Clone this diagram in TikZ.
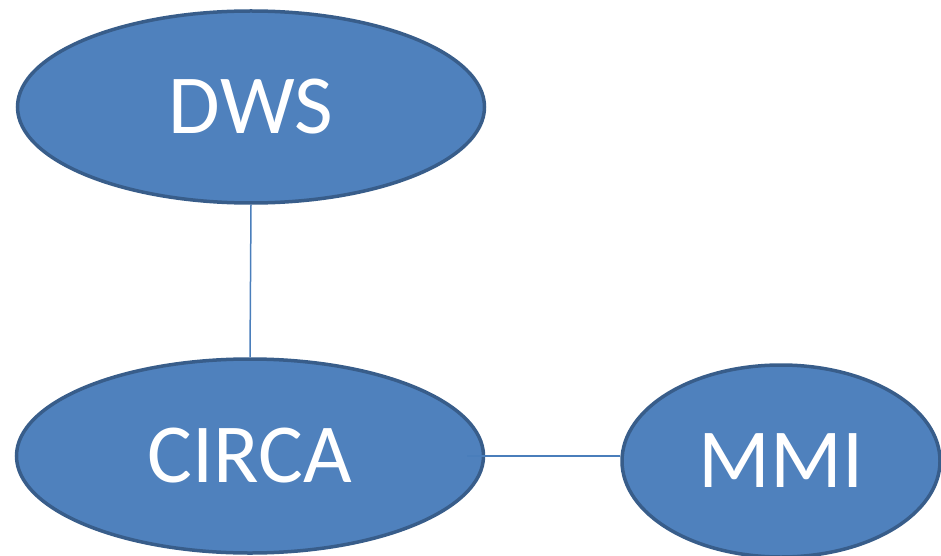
\documentclass[tikz,border=0pt]{standalone}
\usepackage{fontspec}
\setmainfont{Carlito}
\usetikzlibrary{shapes.geometric}
\definecolor{blobfill}{HTML}{4F81BD}
\definecolor{blobedge}{HTML}{385D8A}
\definecolor{linkline}{HTML}{4A7EBB}
\begin{document}
\begin{tikzpicture}[x=1pt,y=-1pt,
    blob/.style={ellipse,draw=blobedge,fill=blobfill,line width=3.5pt,inner sep=0pt,
        text=white,font=\fontsize{84}{100}\selectfont},
    link/.style={draw=linkline,line width=1.5pt}]

    \useasboundingbox (0,0) rectangle (941,556);

    \node[blob,minimum width=467,minimum height=192] (dws) at (251,107) {DWS};
    \node[blob,minimum width=467,minimum height=194] (circa) at (250,456) {CIRCA};
    \node[blob,minimum width=318,minimum height=192] (mmi) at (781,461) {MMI};
    \draw[link] (dws.south) -- (circa.north);
    \draw[link] (circa.east) ++(-18,0) -- (circa -| mmi.west);

\end{tikzpicture}
\end{document}
